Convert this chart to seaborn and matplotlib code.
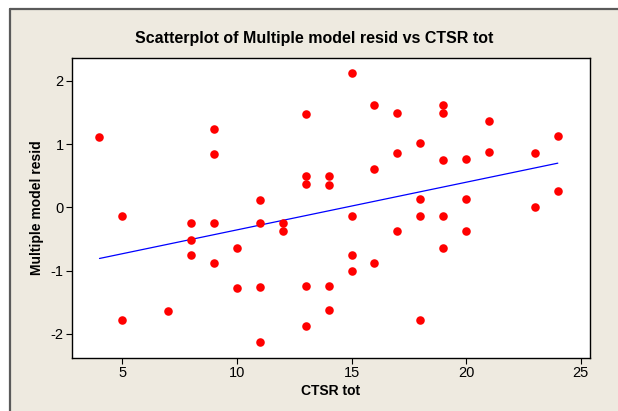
"""Minitab-style scatterplot of multiple model residuals against CTSR total."""

import matplotlib

matplotlib.use("Agg")

import matplotlib.pyplot as plt
import pandas as pd
import seaborn as sns
from matplotlib.lines import Line2D
from matplotlib.patches import Rectangle

# values
ctsr_tot = [
    4,
    5, 5,
    7,
    8, 8, 8,
    9, 9, 9, 9,
    10, 10,
    11, 11, 11, 11,
    12, 12,
    13, 13, 13, 13, 13,
    14, 14, 14, 14,
    15, 15, 15, 15,
    16, 16, 16,
    17, 17, 17,
    18, 18, 18, 18,
    19, 19, 19, 19, 19,
    20, 20, 20,
    21, 21,
    23, 23,
    24, 24,
]
model_resid = [
    1.11,
    -0.14, -1.78,
    -1.64,
    -0.25, -0.51, -0.75,
    1.24, 0.84, -0.25, -0.875,
    -0.64, -1.27,
    0.11, -0.25, -1.26, -2.13,
    -0.25, -0.37,
    1.48, 0.49, 0.37, -1.24, -1.875,
    0.49, 0.36, -1.24, -1.62,
    2.12, -0.14, -0.75, -1.01,
    1.62, 0.61, -0.875,
    1.49, 0.86, -0.37,
    1.01, 0.13, -0.13, -1.78,
    1.62, 1.49, 0.74, -0.14, -0.64,
    0.76, 0.13, -0.37,
    1.36, 0.88,
    0.86, 0.01,
    1.13, 0.26,
]
x_ticks = [5, 10, 15, 20, 25]
y_ticks = [-2, -1, 0, 1, 2]

BEIGE = "#eeeae0"

sns.set_style("white")
plt.rcParams["font.family"] = ["Liberation Sans", "DejaVu Sans"]
plt.rcParams["axes.unicode_minus"] = False
plt.rcParams["text.color"] = "black"
plt.rcParams["axes.labelcolor"] = "black"
plt.rcParams["xtick.color"] = "black"
plt.rcParams["ytick.color"] = "black"

df = pd.DataFrame({"CTSR tot": ctsr_tot, "Multiple model resid": model_resid})

fig = plt.figure(figsize=(6.18, 4.11), dpi=100, facecolor="white")

# beige panel with a dark frame on top and left, like the Minitab graph window
fig.add_artist(Rectangle((0.0154, 0), 1, 0.977, transform=fig.transFigure,
                         facecolor=BEIGE, edgecolor="none", zorder=0))
fig.add_artist(Line2D([0.0154, 1], [0.977, 0.977], transform=fig.transFigure,
                      color="#5a5a5a", lw=1.6))
fig.add_artist(Line2D([0.0154, 0.0154], [0, 0.977], transform=fig.transFigure,
                      color="#5a5a5a", lw=1.6))

ax = fig.add_axes([0.1165, 0.129, 0.838, 0.730])
ax.set_facecolor("white")

sns.scatterplot(data=df, x="CTSR tot", y="Multiple model resid", ax=ax,
                color="#ff0000", s=38, linewidth=0, zorder=3)
sns.regplot(data=df, x="CTSR tot", y="Multiple model resid", ax=ax,
            scatter=False, ci=None, truncate=True,
            line_kws={"color": "#0000ff", "lw": 0.9, "zorder": 2})

ax.set_xlim(2.8, 25.4)
ax.set_ylim(-2.38, 2.36)
ax.set_xticks(x_ticks)
ax.set_yticks(y_ticks)
ax.tick_params(direction="out", length=4, width=0.8, color="black",
               labelsize=10.5, bottom=True, left=True, pad=2)

for spine in ax.spines.values():
    spine.set_visible(True)
    spine.set_color("black")
    spine.set_linewidth(1.0)

ax.set_xlabel("CTSR tot", fontsize=10, fontweight="bold", labelpad=3)
ax.set_ylabel("Multiple model resid", fontsize=10, fontweight="bold", labelpad=5)
fig.text(0.508, 0.907, "Scatterplot of Multiple model resid vs CTSR tot",
         ha="center", va="center", fontsize=11.5, fontweight="bold")

fig.savefig("out.png", dpi=100, facecolor=fig.get_facecolor())
plt.close(fig)
